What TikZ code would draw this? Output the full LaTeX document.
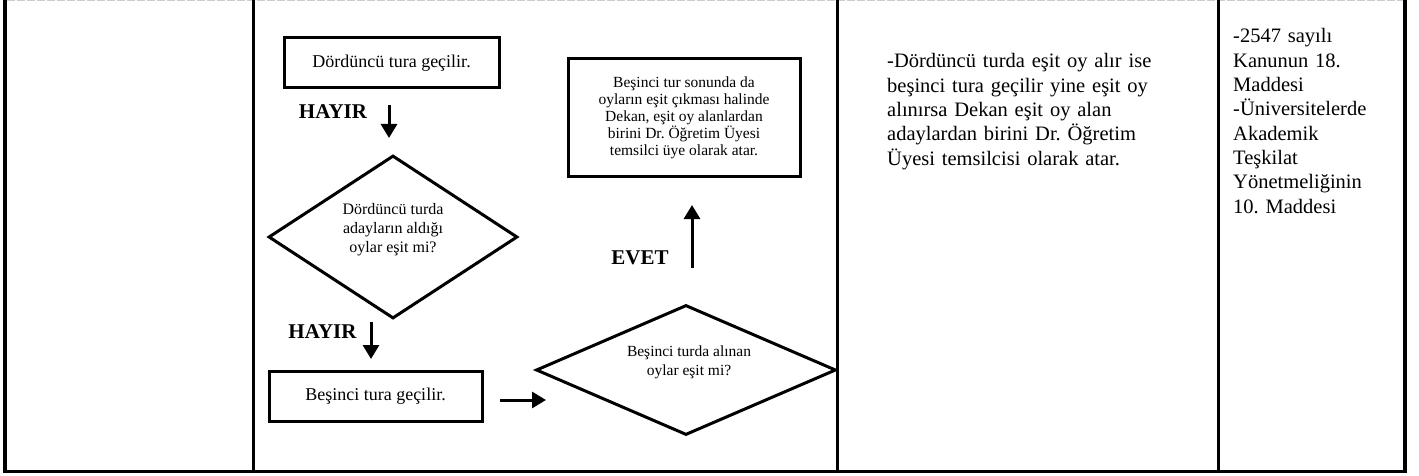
\documentclass[tikz,border=0pt]{standalone}
\usepackage{fontspec}
\setmainfont{Liberation Serif}
\usetikzlibrary{shapes.geometric,arrows.meta}
\begin{document}
\begin{tikzpicture}[x=1pt,y=-1pt,
  procbox/.style={draw, line width=3pt, rectangle, inner sep=0pt, align=center},
  decbox/.style={draw, line width=3pt, diamond, inner sep=0pt},
  dectext/.style={inner sep=0pt, align=center},
  lbl/.style={font=\fontsize{21}{24}\selectfont\bfseries, inner sep=0pt},
  arr/.style={line width=3pt, -{Triangle[width=16pt,length=14pt]}},
  coltext/.style={anchor=base west, inner sep=0pt, align=left, font=\fontsize{20.5}{24.3}\selectfont},
]
\useasboundingbox (0,0) rectangle (1419,476);
\fill[white] (0,0) rectangle (1419,476);
% table frame
\draw[gray!40, line width=1pt, dash pattern=on 8pt off 2pt] (7,0.5) -- (1403,0.5);
\draw[line width=4pt] (5,0) -- (5,473);
\draw[line width=4pt] (1405,0) -- (1405,473);
\draw[line width=3.5pt] (3,471.5) -- (1407,471.5);
\draw[line width=3pt] (253.5,0) -- (253.5,470);
\draw[line width=3pt] (837.5,0) -- (837.5,470);
\draw[line width=3pt] (1218,0) -- (1218,470);

% flowchart nodes
\node[procbox, minimum width=215pt, minimum height=50pt, font=\fontsize{18}{21}\selectfont] (b1) at (391.5,63) {Dördüncü tura geçilir.};
\node[lbl] (h1) at (333,112) {HAYIR};
\node[decbox, minimum width=249pt, minimum height=163pt] (d1) at (393,237) {};
\node[dectext, font=\fontsize{16}{19}\selectfont] (d1t) at (393,230) {Dördüncü turda\\adayların aldığı\\oylar eşit mi?};
\node[lbl] (h2) at (322.5,332) {HAYIR};
\node[procbox, minimum width=213pt, minimum height=50pt, font=\fontsize{18}{21}\selectfont] (b2) at (375.5,396) {Beşinci tura geçilir.};
\node[decbox, minimum width=300pt, minimum height=130pt] (d2) at (686,370) {};
\node[dectext, font=\fontsize{15.5}{19}\selectfont] (d2t) at (689,362) {Beşinci turda alınan\\oylar eşit mi?};
\node[lbl] (ev) at (640,258) {EVET};
\node[procbox, minimum width=232pt, minimum height=117pt, font=\fontsize{15.5}{17}\selectfont] (b3) at (684,117.5) {Beşinci tur sonunda da\\oyların eşit çıkması halinde\\Dekan, eşit oy alanlardan\\birini Dr.\ Öğretim Üyesi\\temsilci üye olarak atar.};

% arrows
\coordinate (a1s) at (389,105);
\coordinate (a1e) at (389,138);
\coordinate (a2s) at (371,322);
\coordinate (a2e) at (371,359);
\coordinate (a3s) at (500,400);
\coordinate (a3e) at (546,400);
\coordinate (a4s) at (692,268);
\coordinate (a4e) at (692,205);
\draw[arr] (a1s) -- (a1e);
\draw[arr] (a2s) -- (a2e);
\draw[arr] (a3s) -- (a3e);
\draw[arr] (a4s) -- (a4e);

% column texts
\node[coltext, text width=320pt] (c3) at (887,68) {-Dördüncü turda eşit oy alır ise\\beşinci tura geçilir yine eşit oy\\alınırsa Dekan eşit oy alan\\adaylardan birini Dr.\ Öğretim\\Üyesi temsilcisi olarak atar.};
\node[coltext, text width=170pt] (c4) at (1233,43) {-2547 sayılı\\Kanunun 18.\\Maddesi\\-Üniversitelerde\\Akademik\\Teşkilat\\Yönetmeliğinin\\10.\ Maddesi};
\end{tikzpicture}
\end{document}
